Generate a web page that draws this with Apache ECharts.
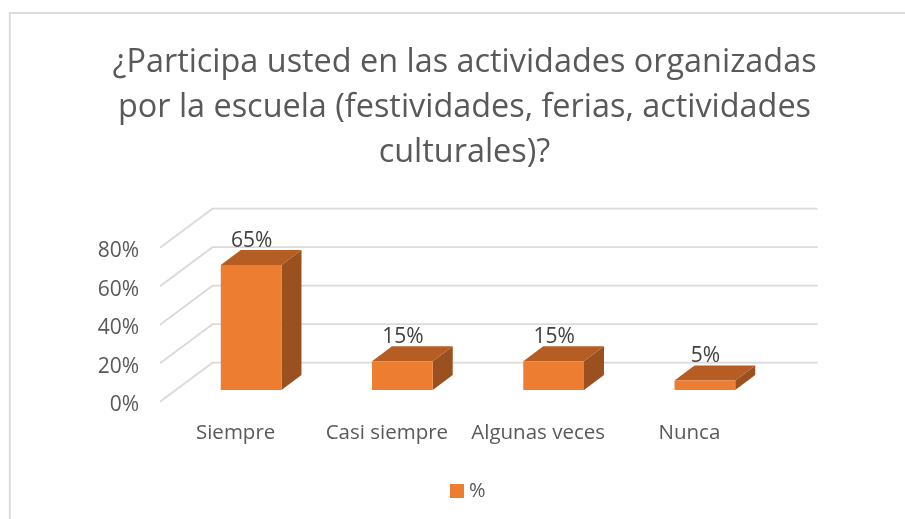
<!DOCTYPE html>
<html><head><meta charset="utf-8">
<style>html,body{margin:0;padding:0;background:#fff}#c{width:905px;height:519px}</style>
<script src="https://cdn.jsdelivr.net/npm/echarts@6/dist/echarts.min.js"></script>
</head><body><div id="c"></div>
<script>
var categories = ['Siempre', 'Casi siempre', 'Algunas veces', 'Nunca'];
var values = [65, 15, 15, 5];
var yTicks = [0, 20, 40, 60, 80];
var seriesName = '%';
var titleText = '¿Participa usted en las actividades organizadas\npor la escuela (festividades, ferias, actividades\nculturales)?';

var FONT = '"Open Sans"';
var FLOOR = [52.5, -39];
var BAR_SHIFT = [15.5, -11.7];
var BAR_DEPTH = [20, -15];
var BAR_W = 60.7;

var chart = echarts.init(document.getElementById('c'), null, {renderer: 'canvas'});

function wallItem(params, api) {
  var p = api.coord([0, api.value(0)]);
  var size = api.size([1, 0])[0];
  var x0 = p[0] - size / 2;
  var y0 = p[1];
  var xb = x0 + FLOOR[0], yb = y0 + FLOOR[1];
  return {
    type: 'polyline', silent: true,
    shape: {points: [[x0, y0], [xb, yb], [xb + size * categories.length, yb]]},
    style: {stroke: '#dadada', lineWidth: 1.8, fill: null}
  };
}

function barItem(params, api) {
  var c = api.coord([api.value(0), api.value(1)]);
  var base = api.coord([api.value(0), 0]);
  var l = c[0] + BAR_SHIFT[0] - BAR_W / 2, r = l + BAR_W;
  var t = c[1] + BAR_SHIFT[1], b = base[1] + BAR_SHIFT[1];
  var dx = BAR_DEPTH[0], dy = BAR_DEPTH[1];
  return {
    type: 'group',
    children: [
      {type: 'polygon', shape: {points: [[r, t], [r + dx, t + dy], [r + dx, b + dy], [r, b]]}, style: {fill: '#9a511f'}},
      {type: 'polygon', shape: {points: [[l, t], [l + dx, t + dy], [r + dx, t + dy], [r, t]]}, style: {fill: '#b55d22'}},
      {type: 'rect', shape: {x: l, y: t, width: BAR_W, height: b - t}, style: {fill: '#ed7d31'}},
      {type: 'text', style: {
        x: (l + r) / 2 + 0.5, y: t - 24,
        text: api.value(1) + '%', fill: '#404040',
        font: '21px ' + FONT, align: 'center', verticalAlign: 'middle'
      }}
    ]
  };
}

chart.setOption({
  animation: false,
  backgroundColor: '#ffffff',
  graphic: [{
    type: 'polyline', silent: true,
    shape: {points: [[9.8, 530], [9.8, 13], [910, 13]]},
    style: {stroke: '#dcdcdc', lineWidth: 2, fill: null}
  }],
  title: {
    text: titleText, left: 459.5, top: 35, textAlign: 'center',
    textStyle: {fontFamily: FONT, fontSize: 32.4, fontWeight: 'normal', color: '#595959', lineHeight: 45}
  },
  legend: {
    show: true, data: [seriesName], left: 450, top: 481, padding: 0,
    itemWidth: 14, itemHeight: 14, itemGap: 6,
    icon: 'rect',
    textStyle: {fontFamily: FONT, fontSize: 20, color: '#595959'}
  },
  grid: {left: 160, width: 605, top: 247.7, height: 154},
  xAxis: {
    type: 'category', data: categories,
    axisLine: {show: false}, axisTick: {show: false}, splitLine: {show: false},
    axisLabel: {margin: 21, interval: 0, fontFamily: FONT, fontSize: 20.5, color: '#595959'}
  },
  yAxis: {
    type: 'value', min: 0, max: 80, interval: 20,
    axisLine: {show: false}, axisTick: {show: false}, splitLine: {show: false},
    axisLabel: {
      margin: 21, formatter: '{s|{value}%}',
      rich: {s: {fontFamily: FONT, fontSize: 21, color: '#595959', padding: [7, 0, 0, 0]}}
    }
  },
  series: [
    {type: 'custom', name: 'wall', silent: true, data: yTicks.map(function (v) { return [v]; }),
     encode: {y: 0}, renderItem: wallItem, z: 1, tooltip: {show: false}},
    {type: 'custom', name: seriesName, itemStyle: {color: '#ed7d31'},
     data: values.map(function (v, i) { return [i, v]; }),
     encode: {x: 0, y: 1}, renderItem: barItem, z: 2}
  ]
});
</script></body></html>
